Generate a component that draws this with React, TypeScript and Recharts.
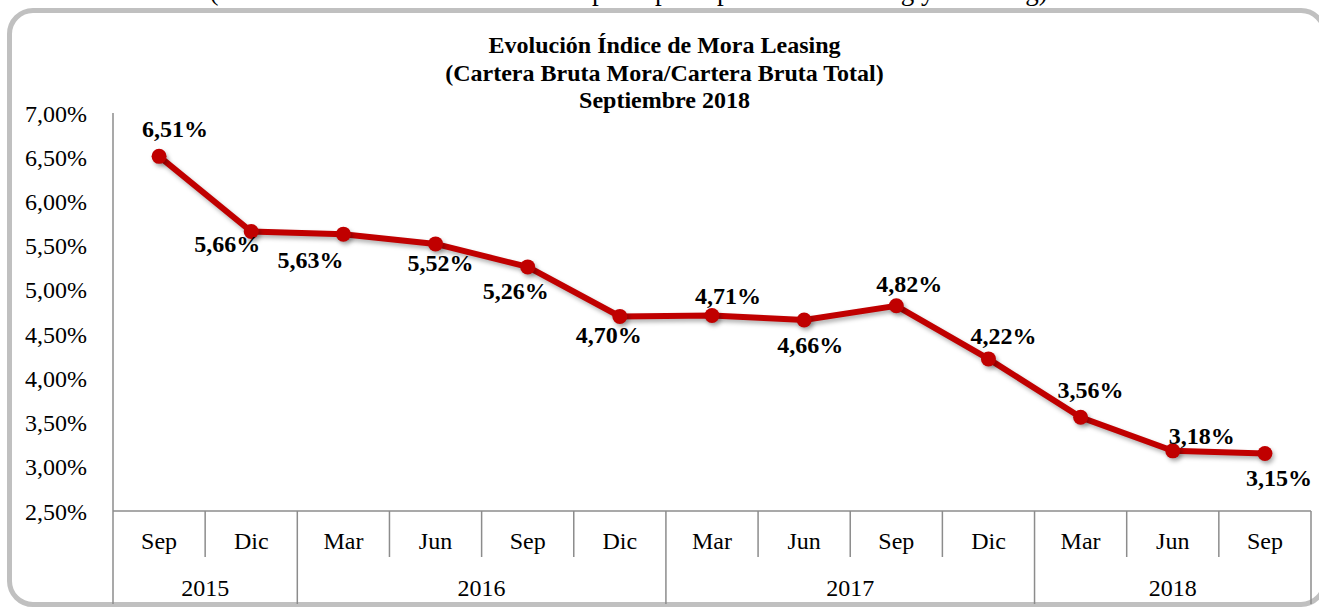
import { LineChart, Line, XAxis, YAxis } from "recharts";

const months = ["Sep", "Dic", "Mar", "Jun", "Sep", "Dic", "Mar", "Jun", "Sep", "Dic", "Mar", "Jun", "Sep"];
const years = ["2015", "2015", "2016", "2016", "2016", "2016", "2017", "2017", "2017", "2017", "2018", "2018", "2018"];
const indiceMora = [6.51, 5.66, 5.63, 5.52, 5.26, 4.7, 4.71, 4.66, 4.82, 4.22, 3.56, 3.18, 3.15];
const yTicks = [2.5, 3, 3.5, 4, 4.5, 5, 5.5, 6, 6.5, 7];

// where each value label sits relative to its point (px)
const labelOffsets = [
  [16, -27], [-24, 12], [-33, 26], [5, 19], [-12, 24], [-11, 19], [16, -20],
  [6, 25], [13, -22], [15, -23], [10, -27], [29, -15], [14, 24],
];

const data = indiceMora.map((v, i) => ({ id: i, month: months[i], year: years[i], value: v }));

const W = 1319;
const H = 609;
const PLOT_LEFT = 113;
const PLOT_RIGHT = 1311;
const PLOT_TOP = 113;
const PLOT_BOTTOM = 511;
const BAND = (PLOT_RIGHT - PLOT_LEFT) / months.length;
const FONT = "'Liberation Serif', 'Times New Roman', serif";
const AXIS_GREY = "#8c8c8c";
const RED = "#c00000";

const pct = (v: number) => v.toFixed(2).replace(".", ",") + "%";

function CategoryTick(props: any) {
  const { x, y } = props;
  const index = props.index ?? props.payload?.index ?? 0;
  const left = x - BAND / 2;
  const newYear = index === 0 || years[index] !== years[index - 1];
  const isLast = index === months.length - 1;
  const count = years.filter((yr) => yr === years[index]).length;
  return (
    <g>
      <line x1={left} x2={left} y1={y} y2={y + (newYear ? 93 : 46)} stroke={AXIS_GREY} strokeWidth={1.5} />
      {isLast && (
        <line x1={x + BAND / 2} x2={x + BAND / 2} y1={y} y2={y + 93} stroke={AXIS_GREY} strokeWidth={1.5} />
      )}
      <text x={x} y={y + 30} textAnchor="middle" dominantBaseline="central" fontFamily={FONT} fontSize={24} fill="#000">
        {months[index]}
      </text>
      {newYear && (
        <text x={left + (count * BAND) / 2} y={y + 77} textAnchor="middle" dominantBaseline="central" fontFamily={FONT} fontSize={24} fill="#000">
          {years[index]}
        </text>
      )}
    </g>
  );
}

function ValueLabel(props: any) {
  const { x, y, value, index } = props;
  const [dx, dy] = labelOffsets[index] ?? [0, -20];
  return (
    <text x={x + dx} y={y + dy} textAnchor="middle" dominantBaseline="central" fontFamily={FONT} fontSize={24} fontWeight="bold" fill="#000">
      {pct(value)}
    </text>
  );
}

export default function App() {
  return (
    <div style={{ position: "absolute", left: 0, top: 0, width: W, height: H, overflow: "hidden", background: "#fff" }}>
      <style>{`.recharts-line-curve, .recharts-line-dots { filter: drop-shadow(2px 3px 2px rgba(0,0,0,0.3)); }`}</style>
      {/* line of the page above the chart, mostly cut off in the source */}
      <div style={{ position: "absolute", left: 115, top: -22, whiteSpace: "nowrap", fontFamily: FONT, fontSize: 27, lineHeight: "27px", color: "#000" }}>
        del total (Saldos sobre valores brutos de los principales productos: leasing y factoring)
      </div>
      <div
        style={{
          position: "absolute",
          left: 7,
          top: 8,
          width: 1320,
          height: 599,
          boxSizing: "border-box",
          border: "5px solid #c0c0c0",
          borderRadius: 26,
        }}
      />
      <div
        style={{
          position: "absolute",
          left: 0,
          top: 32,
          width: W + 10,
          textAlign: "center",
          fontFamily: FONT,
          fontWeight: "bold",
          fontSize: 24,
          lineHeight: "27.5px",
          color: "#000",
        }}
      >
        <div>Evolución Índice de Mora Leasing</div>
        <div>(Cartera Bruta Mora/Cartera Bruta Total)</div>
        <div>Septiembre 2018</div>
      </div>
      <div style={{ position: "absolute", left: 0, top: 0 }}>
        <LineChart
          width={W}
          height={H}
          data={data}
          margin={{ top: PLOT_TOP, right: W - PLOT_RIGHT, bottom: 0, left: 0 }}
        >
          <XAxis
            dataKey="id"
            height={H - PLOT_BOTTOM}
            interval={0}
            padding={{ left: BAND / 2, right: BAND / 2 }}
            axisLine={{ stroke: AXIS_GREY, strokeWidth: 1.5 }}
            tickLine={false}
            tickSize={0}
            tickMargin={0}
            tick={(p: any) => <CategoryTick {...p} />}
          />
          <YAxis
            width={PLOT_LEFT}
            domain={[2.5, 7]}
            ticks={yTicks}
            interval={0}
            axisLine={{ stroke: AXIS_GREY, strokeWidth: 1.5 }}
            tickLine={false}
            tickSize={0}
            tickMargin={26}
            tickFormatter={pct}
            tick={{ fontFamily: FONT, fontSize: 24, fill: "#000" }}
          />
          <Line
            dataKey="value"
            type="linear"
            stroke={RED}
            strokeWidth={6}
            dot={{ r: 7.5, fill: RED, stroke: RED, strokeWidth: 0 }}
            label={(p: any) => <ValueLabel {...p} />}
            isAnimationActive={false}
          />
        </LineChart>
      </div>
    </div>
  );
}
